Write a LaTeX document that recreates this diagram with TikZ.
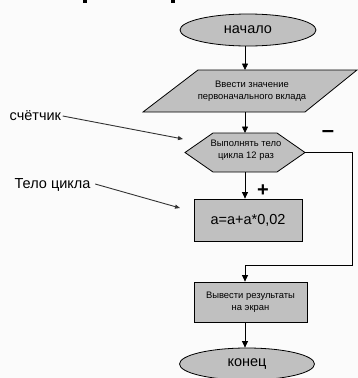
\documentclass[tikz,border=0pt]{standalone}
\usepackage{fontspec}
\setmainfont{Liberation Sans}
\usetikzlibrary{arrows.meta,shapes.geometric}
\definecolor{blockgray}{HTML}{C0C0C0}
\definecolor{paper}{HTML}{FBFBFB}
\begin{document}
\begin{tikzpicture}[x=1pt,y=-1pt,
  block/.style={fill=blockgray, draw=black, line width=0.8pt},
  ghost/.style={inner sep=0pt, outer sep=0pt},
  flow/.style={line width=0.8pt, -{Triangle[length=6.5pt,width=6pt]}},
  note/.style={line width=0.9pt, draw=black!80, -{Triangle[length=5pt,width=4pt]}},
  small/.style={font=\fontsize{9.4}{12}\selectfont, align=center},
  big/.style={font=\fontsize{14.5}{16}\selectfont},
  sign/.style={font=\bfseries\fontsize{20}{20}\selectfont, inner sep=0pt}]
\fill[paper] (0,0) rectangle (358,378);
\useasboundingbox (0,0) rectangle (358,378);

% remains of the heading above the chart
\fill (83,0) rectangle (87,3.2);
\fill (171,0) rectangle (175,3.2);

% start
\node[block, ellipse, minimum width=136pt, minimum height=32pt, inner sep=0pt, big]
  (start) at (248,30) {начало};

% input
\fill[blockgray, draw=black, line width=0.8pt]
  (198,70) -- (357,70) -- (305,112) -- (143,112) -- cycle;
\node[ghost, small, minimum width=214pt, minimum height=42pt] (input) at (252,91)
  {Ввести значение\\первоначального вклада};

% loop header
\node[ghost, minimum width=120pt, minimum height=39pt] (loop) at (245,152.5) {};
\fill[blockgray, draw=black, line width=0.8pt]
  (loop.west) -- ([xshift=28pt]loop.north west) -- ([xshift=-28pt]loop.north east)
  -- (loop.east) -- ([xshift=-28pt]loop.south east) -- ([xshift=28pt]loop.south west) -- cycle;
\node[small] at (246,150) {Выполнять тело\\цикла 12 раз};

% loop body
\node[block, minimum width=108pt, minimum height=42pt, inner sep=0pt, big]
  (calc) at (248,220) {a=a+a*0,02};

% output
\node[block, small, minimum width=113pt, minimum height=40pt, inner sep=0pt]
  (output) at (250.5,302) {Вывести результаты\\на экран};

% end
\node[block, ellipse, minimum width=135pt, minimum height=32pt, inner sep=0pt, big]
  (finish) at (247,364) {конец};

% connectors
\draw[flow] (loop.south |- start.south) -- (loop.south |- input.north);
\draw[flow] (loop.south |- input.south) -- (loop.north);
\draw[flow] (loop.south) -- (loop.south |- calc.north);
\coordinate (bend) at (352,265);
\draw[flow] (loop.east) -| (bend) -| (loop.south |- output.north);
\draw[flow] (loop.south |- output.south) -- (loop.south |- finish.north);

% branch signs
\node[sign] (plus) at (263,191) {+};
\node[sign, font=\bfseries\fontsize{22}{22}\selectfont] (minus) at (328,134) {–};

% annotations
\node[big, anchor=west, inner sep=1.5pt] (counter) at (8,116) {счётчик};
\coordinate (counterTip) at (183,139);
\draw[note] (counter.east) -- (counterTip);

\node[big, anchor=west, inner sep=1.5pt] (body) at (13,185) {Тело цикла};
\coordinate (bodyTip) at (180,208);
\draw[note] ([xshift=3pt,yshift=1pt]body.east) -- (bodyTip);
\end{tikzpicture}
\end{document}
